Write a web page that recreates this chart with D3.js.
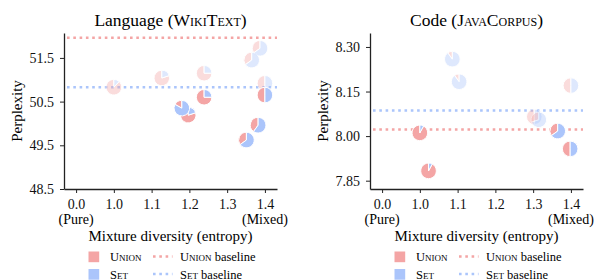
<!DOCTYPE html>
<html>
<head>
<meta charset="utf-8">
<script src="https://cdn.jsdelivr.net/npm/d3@7"></script>
<style>
    body { margin: 0; background: #fff; }
    svg { font-family: "Liberation Serif", "DejaVu Serif", serif; }
    .sc { font-variant: small-caps; }
</style>
</head>
<body>
<svg id="chart" width="594" height="280"></svg>
<script>
const unionColor = '#f4a5a5'
const setColor = '#abc5fb'

// broken x axis: the '0.0' (pure) tick sits one step left of 1.0
const xTicks = [0.9, 1.0, 1.1, 1.2, 1.3, 1.4]
const xTickLabels = ['0.0', '1.0', '1.1', '1.2', '1.3', '1.4']

// Language (WikiText)
const langEntropy = [1.0, 1.127, 1.239, 1.239, 1.197, 1.180, 1.387, 1.365, 1.4, 1.4, 1.382, 1.351]
const langPpl = [50.83, 51.04, 51.15, 50.60, 50.19, 50.35, 51.72, 51.45, 50.92, 50.65, 49.96, 49.62]
const langUnionShare = [0.88, 0.8, 0.75, 0.75, 0.8, 0.17, 0.35, 0.35, 0.5, 0.5, 0.4, 0.35]
const langFaded = [true, true, true, false, false, false, true, true, true, false, false, false]
const langTicks = [48.5, 49.5, 50.5, 51.5]
const langUnionBaseline = 51.96
const langSetBaseline = 50.83

// Code (JavaCorpus)
const codeEntropy = [1.086, 1.104, 1.0, 1.023, 1.303, 1.315, 1.365, 1.398, 1.4]
const codePpl = [8.259, 8.183, 8.011, 7.883, 8.065, 8.055, 8.017, 7.957, 8.170]
const codeUnionShare = [0.1, 0.1, 0.92, 0.92, 0.5, 0.3, 0.35, 0.5, 0.5]
const codeFaded = [true, true, false, false, true, true, false, false, true]
const codeTicks = [7.85, 8.00, 8.15, 8.30]
const codeUnionBaseline = 8.022
const codeSetBaseline = 8.086

const svg = d3.select('#chart')

function drawPanel(cfg) {
    const left = cfg.left, right = cfg.left + 213
    const top = 33, bottom = 189
    const g = svg.append('g')

    const x = d3.scaleLinear().domain([0.868, 1.432]).range([left, right])
    const y = d3.scaleLinear().domain(cfg.yDomain).range([bottom, top])

    // title
    g.append('text')
        .attr('x', (left + right) / 2)
        .attr('y', 25.5)
        .attr('text-anchor', 'middle')
        .attr('font-size', '17.5px')
        .call(t => t.append('tspan').text(cfg.title[0]))
        .call(t => t.append('tspan').attr('class', 'sc').text(cfg.title[1]))
        .call(t => t.append('tspan').text(')'))

    // baselines
    const baselines = [[cfg.unionBaseline, unionColor], [cfg.setBaseline, setColor]]
    g.selectAll('line.baseline')
        .data(baselines)
        .join('line')
        .attr('class', 'baseline')
        .attr('x1', left + 3)
        .attr('x2', right)
        .attr('y1', d => y(d[0]))
        .attr('y2', d => y(d[0]))
        .attr('stroke', d => d[1])
        .attr('stroke-width', 2.6)
        .attr('stroke-dasharray', '2.6,3.7')

    // pies
    const pie = d3.pie().sort(null).value(d => d).startAngle(0).endAngle(-2 * Math.PI)
    const arc = d3.arc().innerRadius(0).outerRadius(7.8)
    const points = cfg.entropy.map((e, i) => ({
        e: e, ppl: cfg.ppl[i], share: cfg.share[i], faded: cfg.faded[i]
    }))

    g.selectAll('g.pt')
        .data(points)
        .join('g')
        .attr('class', 'pt')
        .attr('transform', d => `translate(${x(d.e)},${y(d.ppl)})`)
        .attr('opacity', d => d.faded ? 0.38 : 1)
        .selectAll('path')
        .data(d => pie([d.share, 1 - d.share]))
        .join('path')
        .attr('d', arc)
        .attr('fill', (d, i) => i === 0 ? unionColor : setColor)
        .attr('stroke', '#fff')
        .attr('stroke-width', 1)

    // axes
    const yAxis = g.append('g')
        .attr('transform', `translate(${left},0)`)
        .call(d3.axisLeft(y).tickValues(cfg.yTicks).tickFormat(d3.format(cfg.yFormat))
            .tickSize(4).tickSizeOuter(0).tickPadding(6))
    const xAxis = g.append('g')
        .attr('transform', `translate(0,${bottom})`)
        .call(d3.axisBottom(x).tickValues(xTicks).tickFormat((d, i) => xTickLabels[i])
            .tickSize(4).tickSizeOuter(0).tickPadding(6))

    for (const ax of [yAxis, xAxis]) {
        ax.select('.domain').attr('stroke', '#222').attr('stroke-width', 1.3)
        ax.selectAll('.tick line').attr('stroke', '#222')
        ax.selectAll('.tick text')
            .attr('font-family', '"Liberation Serif", serif')
            .attr('font-size', '14px')
            .attr('fill', '#111')
    }

    g.append('text').attr('x', x(0.9)).attr('y', 224).attr('text-anchor', 'middle')
        .attr('font-size', '14px').text('(Pure)')
    g.append('text').attr('x', x(1.4)).attr('y', 224).attr('text-anchor', 'middle')
        .attr('font-size', '14px').text('(Mixed)')

    g.append('text')
        .attr('x', (left + right) / 2)
        .attr('y', 241)
        .attr('text-anchor', 'middle')
        .attr('font-size', '15px')
        .text('Mixture diversity (entropy)')

    g.append('text')
        .attr('transform', `translate(${cfg.left - 42},${(top + bottom) / 2}) rotate(-90)`)
        .attr('text-anchor', 'middle')
        .attr('font-size', '15px')
        .text('Perplexity')

    // legend
    const legendItems = [['Union', unionColor], ['Set', setColor]]
    const lg = g.append('g').attr('transform', `translate(${left + 24.5},251.5)`)
    lg.selectAll('g')
        .data(legendItems)
        .join('g')
        .attr('transform', (d, i) => `translate(0,${i * 17.5})`)
        .call(r => r.append('rect')
            .attr('width', 10.7).attr('height', 10.7)
            .attr('fill', d => d[1]))
        .call(r => r.append('text')
            .attr('class', 'sc')
            .attr('x', 21.5).attr('y', 9.5)
            .attr('font-size', '12.5px')
            .text(d => d[0]))
        .call(r => r.append('line')
            .attr('x1', 64.5).attr('x2', 84)
            .attr('y1', 5).attr('y2', 5)
            .attr('stroke', d => d[1])
            .attr('stroke-width', 2.6)
            .attr('stroke-dasharray', '2.6,3.7'))
        .call(r => r.append('text')
            .attr('x', 91.5).attr('y', 9.5)
            .attr('font-size', '12.5px')
            .call(t => t.append('tspan').attr('class', 'sc').text(d => d[0]))
            .call(t => t.append('tspan').text(' baseline')))
}

drawPanel({
    left: 64, title: ['Language (', 'WikiText'],
    entropy: langEntropy, ppl: langPpl, share: langUnionShare, faded: langFaded,
    yDomain: [48.5, 52.07], yTicks: langTicks, yFormat: '.1f',
    unionBaseline: langUnionBaseline, setBaseline: langSetBaseline
})

drawPanel({
    left: 370, title: ['Code (', 'JavaCorpus'],
    entropy: codeEntropy, ppl: codePpl, share: codeUnionShare, faded: codeFaded,
    yDomain: [7.822, 8.347], yTicks: codeTicks, yFormat: '.2f',
    unionBaseline: codeUnionBaseline, setBaseline: codeSetBaseline
})
</script>
</body>
</html>
